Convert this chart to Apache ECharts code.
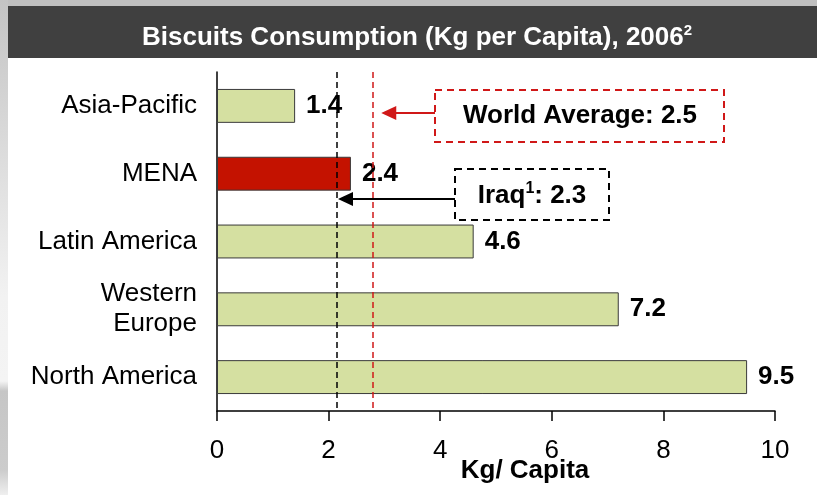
<!DOCTYPE html>
<html>
<head>
  <meta charset="utf-8" />
  <title>Biscuits Consumption</title>
  <script src="https://cdn.jsdelivr.net/npm/echarts@6/dist/echarts.min.js"></script>
  <style>
    html, body { margin: 0; padding: 0; background: #fff; }
    #chart { width: 817px; height: 495px; }
  </style>
</head>
<body>
  <div id="chart"></div>
  <script>
    // data
    var regions = ['Asia-Pacific', 'MENA', 'Latin America', 'Western\nEurope', 'North America'];
    var consumption = [1.4, 2.4, 4.6, 7.2, 9.5];
    var highlight = 'MENA';
    var xTicks = [0, 2, 4, 6, 8, 10];

    // reference lines (drawn where the picture puts them) and their captions
    var refPositions = [2.15, 2.8];
    var refCaptions = ['Iraq', 'World Average: 2.5'];

    var green = '#d5e0a1';
    var red = '#c41200';
    var font = '"Liberation Sans", Arial, sans-serif';

    var chart = echarts.init(document.getElementById('chart'));

    var option = {
      animation: false,
      backgroundColor: '#fff',
      title: {
        left: 137, top: 18, z: 10,
        text: '{m|Biscuits Consumption (Kg per Capita), 2006}{s|2}',
        textStyle: {
          rich: {
            m: { fontFamily: font, fontSize: 26, fontWeight: 'bold', color: '#fff', lineHeight: 30 },
            s: { fontFamily: font, fontSize: 15, fontWeight: 'bold', color: '#fff', lineHeight: 18, verticalAlign: 'top' }
          }
        }
      },
      grid: { left: 217, right: 42, top: 72, bottom: 84, outerBoundsMode: 'none', containLabel: false },
      xAxis: {
        type: 'value', min: 0, max: 10, interval: 2,
        splitLine: { show: false },
        axisLine: { show: true, lineStyle: { color: '#000', width: 1.5 } },
        axisTick: { show: true, length: 10, lineStyle: { color: '#000', width: 1.5 } },
        axisLabel: { margin: 27, fontFamily: font, fontSize: 26, color: '#000' },
        name: 'Kg/ Capita', nameLocation: 'middle', nameGap: 47, nameMoveOverlap: false,
        nameTextStyle: { fontFamily: font, fontSize: 26, fontWeight: 'bold', color: '#000', padding: [0, 0, 0, 58] }
      },
      yAxis: {
        type: 'category', data: regions, inverse: true,
        axisLine: { show: true, lineStyle: { color: '#000', width: 1.5 } },
        axisTick: { show: false },
        axisLabel: { margin: 20, fontFamily: font, fontSize: 26, color: '#000', lineHeight: 30 }
      },
      series: [{
        type: 'bar',
        barCategoryGap: '50%',
        data: consumption.map(function (v, i) {
          return { value: v, itemStyle: { color: regions[i] === highlight ? red : green } };
        }),
        itemStyle: { borderColor: '#3a3a3a', borderWidth: 1 },
        label: {
          show: true, position: 'right', distance: 11,
          fontFamily: font, fontSize: 26, fontWeight: 'bold', color: '#000',
          formatter: function (p) { return p.value.toFixed(1); }
        },
        markLine: {
          silent: true, symbol: 'none', label: { show: false },
          data: [
            { xAxis: refPositions[0], lineStyle: { color: '#000', width: 1.5, type: [6, 4] } },
            { xAxis: refPositions[1], lineStyle: { color: '#d01818', width: 1.5, type: [6, 4] } }
          ]
        }
      }]
    };

    chart.setOption(option);

    // annotation boxes and arrows pointing at the reference lines
    var iraqX = chart.convertToPixel({ xAxisIndex: 0 }, refPositions[0]);
    var worldX = chart.convertToPixel({ xAxisIndex: 0 }, refPositions[1]);

    function arrow(x1, x2, y, color) {
      return [
        { type: 'line', shape: { x1: x1, y1: y, x2: x2 + 12, y2: y }, style: { stroke: color, lineWidth: 2 } },
        { type: 'polygon', shape: { points: [[x2, y], [x2 + 15, y - 7], [x2 + 15, y + 7]] }, style: { fill: color } }
      ];
    }

    var graphics = [
      { type: 'rect', z: -10, shape: { x: 0, y: 0, width: 817, height: 6 }, style: { fill: '#c0c0c0' } },
      { type: 'rect', z: -10, shape: { x: 0, y: 0, width: 8, height: 495 },
        style: { fill: new echarts.graphic.LinearGradient(0, 0, 0, 1, [
          { offset: 0, color: '#c4c4c4' }, { offset: 0.6, color: '#f2f2f2' },
          { offset: 0.77, color: '#f4f4f4' }, { offset: 0.79, color: '#c6c6c6' },
          { offset: 0.95, color: '#cccccc' }, { offset: 1, color: '#efefef' }
        ]) } },
      { type: 'rect', z: -9, shape: { x: 8, y: 6, width: 809, height: 52 }, style: { fill: '#404040' } },

      { type: 'rect', shape: { x: 435, y: 90, width: 289, height: 52 },
        style: { fill: '#fff', stroke: '#d01818', lineWidth: 2, lineDash: [7, 5] } },
      { type: 'text', x: 580, y: 116,
        style: { text: refCaptions[1], fontFamily: font, fontSize: 26, fontWeight: 'bold', fill: '#000', align: 'center', verticalAlign: 'middle' } },

      { type: 'rect', shape: { x: 455, y: 169, width: 154, height: 51 },
        style: { fill: '#fff', stroke: '#000', lineWidth: 2, lineDash: [7, 5] } },
      { type: 'text', x: 532, y: 196,
        style: {
          text: '{m|' + refCaptions[0] + '}{s|1}{m|: 2.3}', align: 'center', verticalAlign: 'middle',
          rich: {
            m: { fontFamily: font, fontSize: 26, fontWeight: 'bold', fill: '#000', lineHeight: 30 },
            s: { fontFamily: font, fontSize: 16, fontWeight: 'bold', fill: '#000', lineHeight: 20, verticalAlign: 'top' }
          }
        } }
    ];
    graphics = graphics.concat(arrow(435, worldX + 8, 113, '#d01818'));
    graphics = graphics.concat(arrow(455, iraqX + 1, 199, '#000'));

    chart.setOption({ graphic: graphics });
  </script>
</body>
</html>
